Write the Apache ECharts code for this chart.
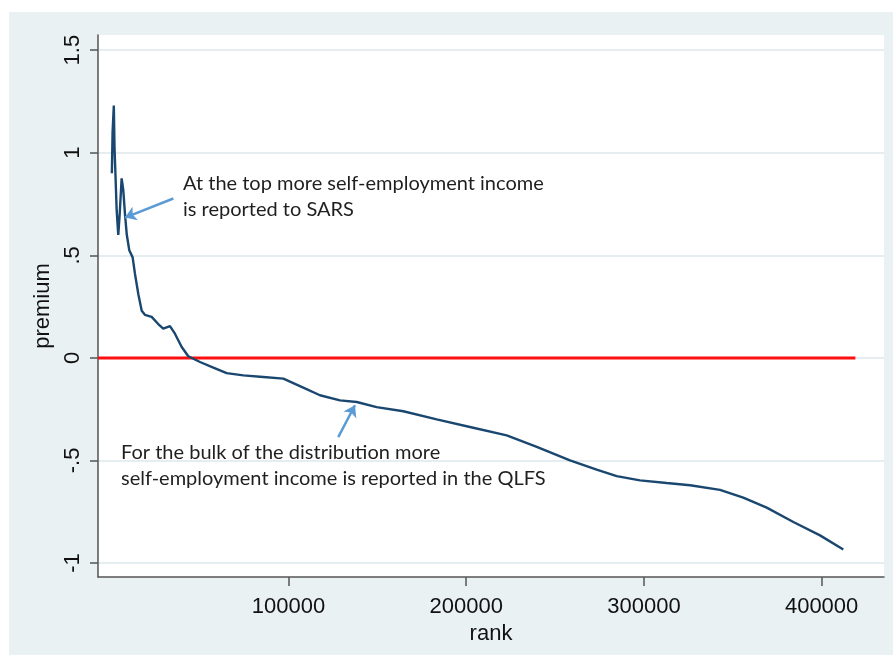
<!DOCTYPE html>
<html>
<head>
<meta charset="utf-8">
<script src="https://cdn.jsdelivr.net/npm/echarts@6/dist/echarts.min.js"></script>
<style>
  html, body { margin: 0; padding: 0; background: #fff; }
  #chart { width: 893px; height: 655px; }
</style>
</head>
<body>
<div id="chart"></div>
<script>
// premium by rank
const rank = [600, 1000, 1700, 2100, 2600, 3300, 4200, 5000, 6100, 7000, 8000, 9000, 10400, 12300,
  13600, 15500, 17400, 19200, 23000, 26700, 29500, 33300, 36100, 39900, 43600, 50200, 57700, 65200,
  74600, 85800, 97100, 108300, 117700, 129000, 138400, 149600, 164600, 183400, 202100, 222800,
  239700, 258400, 273400, 284700, 297800, 312800, 326000, 342800, 355900, 369100, 384100, 399100, 412200];
const premium = [0.90, 1.10, 1.23, 1.02, 0.90, 0.72, 0.60, 0.70, 0.875, 0.82, 0.70, 0.60, 0.525, 0.49,
  0.41, 0.31, 0.23, 0.21, 0.20, 0.165, 0.143, 0.155, 0.118, 0.053, 0.008, -0.020, -0.047, -0.074,
  -0.085, -0.093, -0.101, -0.145, -0.182, -0.207, -0.215, -0.240, -0.260, -0.300, -0.337, -0.378,
  -0.434, -0.500, -0.545, -0.576, -0.597, -0.610, -0.621, -0.643, -0.681, -0.730, -0.800, -0.865, -0.934];

// zero reference line
const zeroRank = [-7200, 419000];
const zeroVal = [0, 0];

const xTicks = [100000, 200000, 300000, 400000];
const xTickLabels = ['100000', '200000', '300000', '400000'];
const yTicks = [-1, -0.5, 0, 0.5, 1, 1.5];
const yTickLabels = ['-1', '-.5', '0', '.5', '1', '1.5'];

const xMin = -7200, xMax = 435100;
const yMin = -1.068, yMax = 1.574;

const note1 = 'At the top more self-employment income\nis reported to SARS';
const note2 = 'For the bulk of the distribution more\nself-employment income is reported in the QLFS';

const chart = echarts.init(document.getElementById('chart'));

const axisFont = 'Liberation Sans, Arial, sans-serif';
const noteFont = 'Lato, "Open Sans", sans-serif';
const arrowColor = '#5b9bd5';

const option = {
  backgroundColor: '#ffffff',
  animation: false,
  graphic: [
    { type: 'rect', z: -10, shape: { x: 9, y: 12, width: 884, height: 643 }, style: { fill: '#eaf1f3' }, silent: true },
    { type: 'text', z: 10, left: 183, top: 171, style: { text: note1, font: '20px ' + noteFont, fill: '#1f1f1f', lineHeight: 26 } },
    { type: 'text', z: 10, left: 121, top: 440, style: { text: note2, font: '20px ' + noteFont, fill: '#1f1f1f', lineHeight: 26 } }
  ],
  grid: {
    left: 98, right: 9, top: 35, bottom: 78,
    show: true, backgroundColor: '#ffffff', borderWidth: 0
  },
  xAxis: {
    type: 'value', min: xMin, max: xMax,
    name: 'rank', nameLocation: 'middle', nameGap: 36,
    nameTextStyle: { fontFamily: axisFont, fontSize: 22, color: '#111' },
    axisLine: { show: true, onZero: false, lineStyle: { color: '#555', width: 1.5 } },
    axisTick: { show: true, customValues: xTicks, length: 9, lineStyle: { color: '#555', width: 1.5 } },
    axisLabel: {
      customValues: xTicks, margin: 19, fontFamily: axisFont, fontSize: 22, color: '#111',
      formatter: v => xTickLabels[xTicks.indexOf(v)]
    },
    splitLine: { show: false }
  },
  yAxis: {
    type: 'value', min: yMin, max: yMax,
    name: 'premium', nameLocation: 'middle', nameGap: 37, nameRotate: 90,
    nameTextStyle: { fontFamily: axisFont, fontSize: 22, color: '#111' },
    axisLine: { show: true, onZero: false, lineStyle: { color: '#555', width: 1.5 } },
    axisTick: { show: true, customValues: yTicks, length: 8, lineStyle: { color: '#555', width: 1.5 } },
    axisLabel: {
      customValues: yTicks, rotate: 90, margin: 14, fontFamily: axisFont, fontSize: 22, color: '#111',
      formatter: v => yTickLabels[yTicks.indexOf(v)]
    },
    splitLine: { show: true, lineStyle: { color: '#e5edf0', width: 2 } }
  },
  series: [
    {
      name: 'zero', type: 'line', symbol: 'none', z: 3,
      lineStyle: { color: '#ff1010', width: 3 },
      data: zeroRank.map((r, i) => [r, zeroVal[i]]),
      markLine: {
        silent: true, symbol: ['none', 'arrow'], symbolSize: 11,
        lineStyle: { color: arrowColor, width: 2.5, type: 'solid' },
        label: { show: false },
        data: [
          [{ coord: [35200, 0.777] }, { coord: [7990, 0.684] }],
          [{ coord: [128000, -0.386] }, { coord: [137400, -0.231] }]
        ]
      }
    },
    {
      name: 'premium', type: 'line', symbol: 'none', z: 4,
      lineStyle: { color: '#1a476f', width: 2.4 },
      data: rank.map((r, i) => [r, premium[i]])
    }
  ]
};

chart.setOption(option);
</script>
</body>
</html>
